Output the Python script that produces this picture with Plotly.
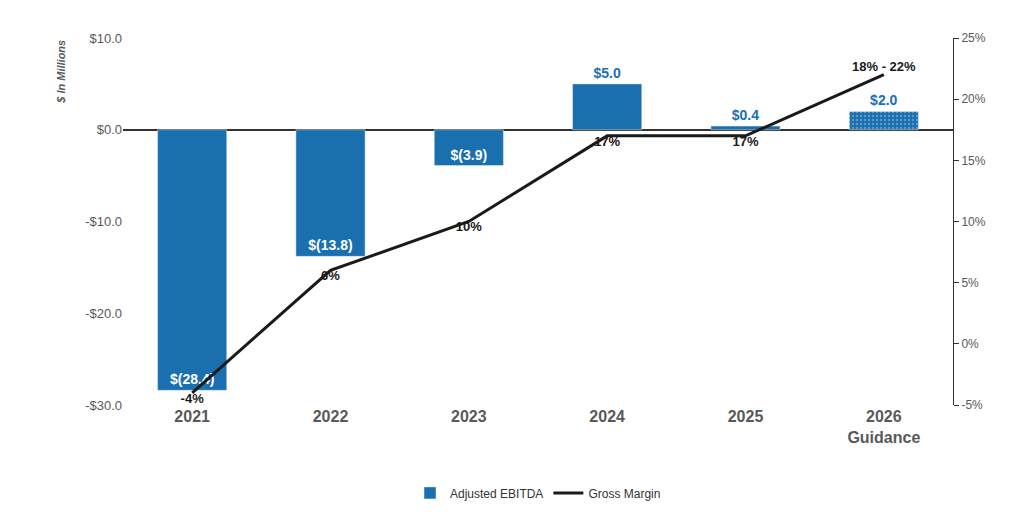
import plotly.graph_objects as go

years = ["2021", "2022", "2023", "2024", "2025", "2026"]
year_labels = ["<b>2021</b>", "<b>2022</b>", "<b>2023</b>", "<b>2024</b>", "<b>2025</b>", "<b>2026<br>Guidance</b>"]
ebitda = [-28.4, -13.8, -3.9, 5.0, 0.4, 2.0]
ebitda_labels = ["<b>$(28.4)</b>", "<b>$(13.8)</b>", "<b>$(3.9)</b>", "<b>$5.0</b>", "<b>$0.4</b>", "<b>$2.0</b>"]
margin = [-4, 6, 10, 17, 17, 22]
margin_labels = ["<b>-4%</b>", "<b>6%</b>", "<b>10%</b>", "<b>17%</b>", "<b>17%</b>", "<b>18% - 22%</b>"]
left_ticks = [-30, -20, -10, 0, 10]
left_tick_text = ["-$30.0", "-$20.0", "-$10.0", "$0.0", "$10.0"]
right_ticks = [-5, 0, 5, 10, 15, 20, 25]
right_tick_text = ["-5%", "0%", "5%", "10%", "15%", "20%", "25%"]

BLUE = "#1a6faf"
GREY = "#595959"

fig = go.Figure()

neg = [v < 0 for v in ebitda]
fig.add_trace(go.Bar(
    x=years, y=ebitda, name="Adjusted EBITDA",
    marker=dict(
        color=BLUE,
        pattern=dict(shape=[""] * 5 + ["."], fgcolor="#9cc3e0", size=4, solidity=0.3),
    ),
    text=ebitda_labels,
    textposition=["inside" if n else "outside" for n in neg],
    insidetextanchor="end",
    textfont=dict(size=14, family="Arial", color=["white" if n else BLUE for n in neg]),
    cliponaxis=False,
    width=0.5,
))

fig.add_trace(go.Scatter(
    x=years, y=margin, name="Gross Margin", yaxis="y2",
    mode="lines+text",
    line=dict(color="#1a1a1a", width=3),
    text=margin_labels,
    textposition=["bottom center"] * 5 + ["top center"],
    textfont=dict(size=13, family="Arial", color="#1a1a1a"),
    cliponaxis=False,
))

fig.add_annotation(
    text="<i><b>$ In Millions</b></i>", textangle=-90,
    xref="paper", yref="paper", x=-0.075, y=1.0, xanchor="center", yanchor="top",
    showarrow=False, font=dict(size=11, color=GREY),
)

fig.update_layout(
    width=1024, height=512,
    margin=dict(l=115, r=79, t=30, b=105),
    plot_bgcolor="white", paper_bgcolor="white",
    font=dict(family="Arial", color=GREY),
    showlegend=True,
    legend=dict(orientation="h", x=0.5, xanchor="center", y=-0.2, yanchor="top",
                font=dict(size=12, color="#333")),
    xaxis=dict(tickmode="array", tickvals=years, ticktext=year_labels,
               tickfont=dict(size=16, color=GREY, family="Arial"), showgrid=False, ticks=""),
    yaxis=dict(range=[-30, 10], tickmode="array", tickvals=left_ticks, ticktext=left_tick_text,
               showgrid=False, zeroline=True, zerolinecolor="#333", zerolinewidth=1.5,
               tickfont=dict(size=13, color=GREY)),
    yaxis2=dict(range=[-5, 25], tickmode="array", tickvals=right_ticks, ticktext=right_tick_text,
                overlaying="y", side="right", showgrid=False, zeroline=False,
                showline=True, linecolor="#333", ticks="outside",
                ticklen=5, tickcolor="#333", tickfont=dict(size=12, color=GREY)),
)

fig.write_html("out.html")
